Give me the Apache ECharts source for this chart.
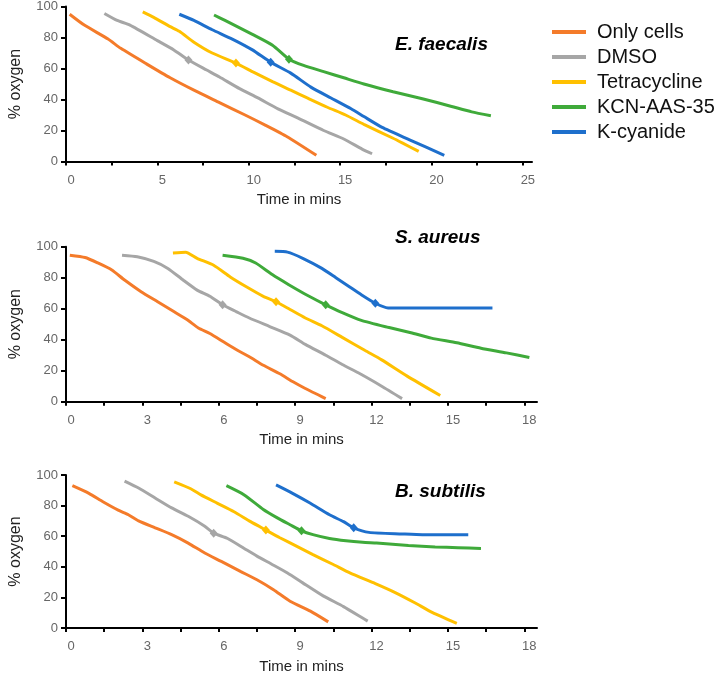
<!DOCTYPE html>
<html><head><meta charset="utf-8">
<script src="https://cdn.jsdelivr.net/npm/echarts@6/dist/echarts.min.js"></script>
<style>html,body{margin:0;padding:0;background:#fff}#c{width:715px;height:675px}</style>
</head><body><div id="c"></div>
<script>
const seriesNames = ['Only cells', 'DMSO', 'Tetracycline', 'KCN-AAS-35', 'K-cyanide'];
const panelTitles = ['E. faecalis', 'S. aureus', 'B. subtilis'];
const yTicks = [0, 20, 40, 60, 80, 100];
const efXLabels = [0, 5, 10, 15, 20, 25];
const efXTicks = [0, 2.5, 5, 7.5, 10, 12.5, 15, 17.5, 20, 22.5, 25];
const saXLabels = [0, 3, 6, 9, 12, 15, 18];
const saXTicks = [0, 1.5, 3, 4.5, 6, 7.5, 9, 10.5, 12, 13.5, 15, 16.5, 18];

// E. faecalis  [time (min), % oxygen]
const efOnlyCells = [[0.2,95],[1,88],[2.3,79],[3,73],[4.4,63],[5.7,54],[7,46],[8.4,38],[9.8,30],[10.9,23.5],[12.1,16],[13.7,4]];
const efDMSO = [[2.1,95.5],[2.8,91],[3.5,88],[5,78],[5.9,72],[6.7,65.5],[7.7,59],[8.4,54.5],[9.5,47],[10.5,41],[11.6,34],[12.7,28],[14.1,20],[15.2,14.5],[16.2,8],[16.75,5]];
const efTetracycline = [[4.2,96.5],[4.8,93],[5.7,87],[6.2,84],[7,77],[8,70],[9.3,63.5],[10.2,58],[11.3,51.5],[12.3,46],[13.2,41],[14.3,35],[15.3,30],[16.3,24],[17.9,15],[18.4,12],[19.3,6.5]];
const efKCNAAS35 = [[8.1,94.5],[8.7,91],[10.2,82],[11.3,75],[12.2,66],[13,62],[14.1,58],[15.2,54],[16.3,50],[17.9,45],[19.5,40.5],[21.1,35.5],[22.2,32],[23.25,29.5]];
const efKCyanide = [[6.2,95],[7,91],[8,85],[9.1,79],[10.2,72],[11.2,64],[12.3,57],[13.4,48],[14.5,41],[15.6,34],[16.3,29],[17.3,22],[18.8,14],[20.7,4]];
const efMarkerIdx = [null, 5, 6, 4, 5];

// S. aureus
const saOnlyCells = [[0.15,94.5],[0.75,93],[1.25,89.5],[1.8,85],[2.3,78.5],[2.95,71],[3.6,64.5],[4.25,58],[4.75,53],[5.2,47.5],[5.65,44],[6.2,38.5],[6.7,33.5],[7.2,29],[7.75,23.5],[8.4,18],[8.9,13],[9.4,8.5],[10.2,2]];
const saDMSO = [[2.2,94.5],[2.8,93.5],[3.45,90.5],[4,86],[4.6,78.5],[5.15,72],[5.65,68],[6.15,62.5],[6.7,58],[7.2,54],[8,48.5],[8.8,43],[9.4,37],[10.2,30],[10.85,24],[11.55,18],[12.4,10],[13.2,2]];
const saTetracycline = [[4.2,96],[4.7,96.5],[5.15,92.5],[5.8,88],[6.45,80.5],[7.1,74],[7.75,68],[8.25,64.5],[8.8,59.5],[9.4,54],[10.05,49],[10.85,41.5],[11.75,33],[12.4,27],[13.4,16.5],[14.7,4]];
const saKCNAAS35 = [[6.15,94.5],[6.95,92.5],[7.45,89.5],[8.1,82],[8.75,75.5],[9.55,68],[10.2,62.5],[10.85,57.5],[11.6,52.5],[12.65,48],[13.55,44.5],[14.35,41],[15.35,38],[16.3,34.5],[17.3,31.5],[18.2,28.5]];
const saKCyanide = [[8.2,97],[8.7,96.5],[9.3,92.5],[10.05,86],[10.6,80],[11.1,74.5],[11.6,69],[12.15,63.5],[12.65,60.5],[16.75,60.5]];
const saMarkerIdx = [null, 7, 7, 6, 7];

// B. subtilis
const bsOnlyCells = [[0.25,93],[0.9,88],[1.45,82.5],[2.05,77],[2.45,74],[2.85,70],[3.5,65.5],[4.15,61],[4.8,55.5],[5.45,49],[6.1,43.5],[6.85,37],[7.5,31.5],[8.15,25],[8.8,17.5],[9.6,11],[10.3,4]];
const bsDMSO = [[2.3,96],[2.85,91.5],[3.5,85],[4.15,78.5],[4.8,73],[5.45,66.5],[5.8,62],[6.35,58.5],[7,52],[7.5,47],[8.05,42],[8.7,36],[9.3,29.5],[10.1,21],[10.9,14],[11.65,6.5],[11.85,4.5]];
const bsTetracycline = [[4.25,95.5],[4.9,91],[5.3,87],[5.95,81.5],[6.6,76],[7.25,69.5],[7.85,64],[8.4,59],[9.05,53.5],[9.7,48],[10.5,41.5],[11.15,36],[12.15,29],[12.95,23],[13.7,16.5],[14.4,10],[15.35,3]];
const bsKCNAAS35 = [[6.3,93],[7,87],[7.75,77.5],[8.3,72],[8.8,67.5],[9.25,63.5],[9.7,61],[10.35,58.5],[11,57],[11.65,56],[12.2,55.5],[13.45,54],[14.5,53],[15.4,52.5],[16.3,52]];
const bsKCyanide = [[8.25,93.5],[8.9,88],[9.6,81.5],[10.35,74],[10.9,69.5],[11.3,65.5],[11.9,62.5],[13.2,61.5],[14,61],[15.8,61]];
const bsMarkerIdx = [null, 6, 6, 5, 5];

const colors = ['#F47B2A', '#A6A6A6', '#FFC000', '#3FAA3A', '#1E6FCC'];
const FONT = 'Liberation Sans';

const panels = [
  { data: [efOnlyCells, efDMSO, efTetracycline, efKCNAAS35, efKCyanide], marks: efMarkerIdx,
    grid: { left: 57.5, top: 6, width: 474.5, height: 155.5 }, xMax: 25.5, xLabels: efXLabels, xTicks: efXTicks, titleTop: 35 },
  { data: [saOnlyCells, saDMSO, saTetracycline, saKCNAAS35, saKCyanide], marks: saMarkerIdx,
    grid: { left: 61, top: 246.7, width: 476, height: 155 }, xMax: 18.5, xLabels: saXLabels, xTicks: saXTicks, titleTop: 228 },
  { data: [bsOnlyCells, bsDMSO, bsTetracycline, bsKCNAAS35, bsKCyanide], marks: bsMarkerIdx,
    grid: { left: 60, top: 475, width: 477, height: 153 }, xMax: 18.5, xLabels: saXLabels, xTicks: saXTicks, titleTop: 482 }
];

const grids = [], xAxes = [], yAxes = [], series = [], titles = [];
panels.forEach((p, i) => {
  grids.push(Object.assign({ containLabel: false }, p.grid));
  xAxes.push({
    type: 'value', gridIndex: i, min: 0, max: p.xMax,
    axisLine: { show: true, onZero: false, lineStyle: { color: '#000', width: 2 } },
    axisTick: { show: true, length: 4, customValues: p.xTicks, lineStyle: { color: '#000', width: 2 } },
    axisLabel: { customValues: p.xLabels, color: '#666', fontSize: 13, fontFamily: FONT, margin: 12, padding: [0, 0, 0, 10] },
    splitLine: { show: false },
    name: 'Time in mins', nameLocation: 'middle', nameGap: 31,
    nameTextStyle: { fontSize: 15, fontFamily: FONT, color: '#222' }
  });
  yAxes.push({
    type: 'value', gridIndex: i, min: 0, max: 100, interval: 20,
    axisLine: { show: true, lineStyle: { color: '#000', width: 2 } },
    axisTick: { show: true, length: 5, lineStyle: { color: '#000', width: 2 } },
    axisLabel: { color: '#666', fontSize: 13, fontFamily: FONT, margin: 8 },
    splitLine: { show: false },
    name: '% oxygen', nameLocation: 'middle', nameGap: 42,
    nameTextStyle: { fontSize: 16, fontFamily: FONT, color: '#222' }
  });
  titles.push({
    text: panelTitles[i], left: 395, top: p.titleTop, padding: 0,
    textStyle: { fontSize: 19, fontWeight: 'bold', fontStyle: 'italic', fontFamily: FONT, color: '#000' }
  });
  p.data.forEach((arr, s) => {
    const mi = p.marks[s];
    series.push({
      name: seriesNames[s], type: 'line', xAxisIndex: i, yAxisIndex: i,
      color: colors[s], symbol: 'none', showSymbol: true, smooth: 0.2,
      lineStyle: { width: 3, color: colors[s] },
      itemStyle: { color: colors[s] },
      emphasis: { disabled: true },
      data: arr.map((d, k) => k === mi
        ? { value: d, symbol: 'diamond', symbolSize: [8, 9] }
        : { value: d })
    });
  });
});

const chart = echarts.init(document.getElementById('c'), null, { renderer: 'canvas' });
chart.setOption({
  animation: false,
  backgroundColor: '#fff',
  title: titles,
  legend: {
    data: seriesNames, orient: 'vertical', left: 547, top: 17,
    itemWidth: 34, itemHeight: 4, itemGap: 5, icon: 'rect',
    textStyle: { fontSize: 20, fontFamily: FONT, color: '#111', padding: [0, 0, 0, 6] }
  },
  grid: grids, xAxis: xAxes, yAxis: yAxes, series: series
});
</script></body></html>
